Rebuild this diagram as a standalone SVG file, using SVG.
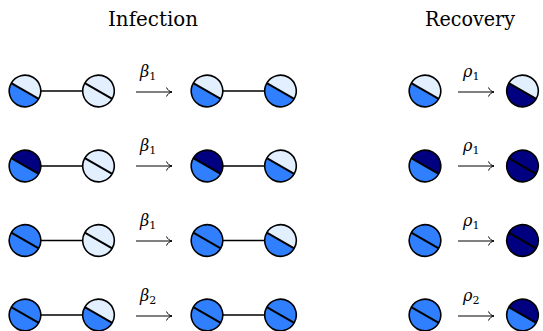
<svg xmlns="http://www.w3.org/2000/svg" width="543" height="331" viewBox="0 0 543 331">
<defs>
<style>
.L{fill:#E2EFFF}.M{fill:#2F7FFF}.D{fill:#000080}
.o{fill:none;stroke:#000;stroke-width:1.6}
.dv{stroke:#000;stroke-width:2;fill:none}
.e{stroke:#000;stroke-width:1.6;fill:none}
.ar{stroke:#000;stroke-width:1;fill:none}
.ser{font-family:'DejaVu Serif','Liberation Serif',serif}
</style>
<path id="top" d="M-15.8,0 A15.8,15.8 0 0 1 15.8,0 Z"/>
<path id="bot" d="M-15.8,0 A15.8,15.8 0 0 0 15.8,0 Z"/>
<line id="div" x1="-15.8" y1="0" x2="15.8" y2="0"/>
<circle id="ring" r="15.8"/>
<path id="arr" d="M0,0 H36 M30.5,-4.5 C31.5,-2 33.5,-0.6 36,0 C33.5,0.6 31.5,2 30.5,4.5"/>
</defs>
<g class="ser" fill="#000">
<text x="153" y="26" font-size="20" text-anchor="middle" textLength="90" lengthAdjust="spacingAndGlyphs">Infection</text>
<text x="470" y="26" font-size="20" text-anchor="middle" textLength="90" lengthAdjust="spacingAndGlyphs">Recovery</text>
</g>
<g id="connectors">
<line class="e" x1="41" y1="91" x2="83" y2="91"/>
<line class="e" x1="223" y1="91" x2="265" y2="91"/>
<line class="e" x1="41" y1="166" x2="83" y2="166"/>
<line class="e" x1="223" y1="166" x2="265" y2="166"/>
<line class="e" x1="41" y1="240.5" x2="83" y2="240.5"/>
<line class="e" x1="223" y1="240.5" x2="265" y2="240.5"/>
<line class="e" x1="41" y1="315" x2="83" y2="315"/>
<line class="e" x1="223" y1="315" x2="265" y2="315"/>
<use href="#arr" class="ar" x="136" y="92"/>
<use href="#arr" class="ar" x="136" y="166"/>
<use href="#arr" class="ar" x="136" y="241"/>
<use href="#arr" class="ar" x="136" y="316"/>
<use href="#arr" class="ar" x="458" y="92"/>
<use href="#arr" class="ar" x="458" y="166"/>
<use href="#arr" class="ar" x="458" y="241"/>
<use href="#arr" class="ar" x="458" y="316"/>
<g class="ser" font-size="16" font-style="italic" fill="#000">
<text x="140" y="77">β<tspan font-size="11" font-style="normal" dy="3">1</tspan></text>
<text x="140" y="151">β<tspan font-size="11" font-style="normal" dy="3">1</tspan></text>
<text x="140" y="226">β<tspan font-size="11" font-style="normal" dy="3">1</tspan></text>
<text x="140" y="301">β<tspan font-size="11" font-style="normal" dy="3">2</tspan></text>
<text x="463" y="77">ρ<tspan font-size="11" font-style="normal" dy="3">1</tspan></text>
<text x="463" y="151">ρ<tspan font-size="11" font-style="normal" dy="3">1</tspan></text>
<text x="463" y="226">ρ<tspan font-size="11" font-style="normal" dy="3">1</tspan></text>
<text x="463" y="301">ρ<tspan font-size="11" font-style="normal" dy="3">2</tspan></text>
</g>
</g>
<!-- Row 1 -->
<g id="n1a" transform="translate(25,91) rotate(30)"><use href="#top" class="L"/><use href="#bot" class="M"/><use href="#div" class="dv"/><use href="#ring" class="o"/></g>
<g id="n1b" transform="translate(98.5,91) rotate(30)"><use href="#top" class="L"/><use href="#bot" class="L"/><use href="#div" class="dv"/><use href="#ring" class="o"/></g>
<g id="n1c" transform="translate(207,91) rotate(30)"><use href="#top" class="L"/><use href="#bot" class="M"/><use href="#div" class="dv"/><use href="#ring" class="o"/></g>
<g id="n1d" transform="translate(280.5,91) rotate(30)"><use href="#top" class="L"/><use href="#bot" class="M"/><use href="#div" class="dv"/><use href="#ring" class="o"/></g>
<g id="r1a" transform="translate(425,91) rotate(30)"><use href="#top" class="L"/><use href="#bot" class="M"/><use href="#div" class="dv"/><use href="#ring" class="o"/></g>
<g id="r1b" transform="translate(522.5,91) rotate(30)"><use href="#top" class="L"/><use href="#bot" class="D"/><use href="#div" class="dv"/><use href="#ring" class="o"/></g>
<!-- Row 2 -->
<g id="n2a" transform="translate(25,166) rotate(30)"><use href="#top" class="D"/><use href="#bot" class="M"/><use href="#div" class="dv"/><use href="#ring" class="o"/></g>
<g id="n2b" transform="translate(98.5,166) rotate(30)"><use href="#top" class="L"/><use href="#bot" class="L"/><use href="#div" class="dv"/><use href="#ring" class="o"/></g>
<g id="n2c" transform="translate(207,166) rotate(30)"><use href="#top" class="D"/><use href="#bot" class="M"/><use href="#div" class="dv"/><use href="#ring" class="o"/></g>
<g id="n2d" transform="translate(280.5,166) rotate(30)"><use href="#top" class="L"/><use href="#bot" class="M"/><use href="#div" class="dv"/><use href="#ring" class="o"/></g>
<g id="r2a" transform="translate(425,166) rotate(30)"><use href="#top" class="D"/><use href="#bot" class="M"/><use href="#div" class="dv"/><use href="#ring" class="o"/></g>
<g id="r2b" transform="translate(522.5,166) rotate(30)"><use href="#top" class="D"/><use href="#bot" class="D"/><use href="#div" class="dv"/><use href="#ring" class="o"/></g>
<!-- Row 3 -->
<g id="n3a" transform="translate(25,240.5) rotate(30)"><use href="#top" class="M"/><use href="#bot" class="M"/><use href="#div" class="dv"/><use href="#ring" class="o"/></g>
<g id="n3b" transform="translate(98.5,240.5) rotate(30)"><use href="#top" class="L"/><use href="#bot" class="L"/><use href="#div" class="dv"/><use href="#ring" class="o"/></g>
<g id="n3c" transform="translate(207,240.5) rotate(30)"><use href="#top" class="M"/><use href="#bot" class="M"/><use href="#div" class="dv"/><use href="#ring" class="o"/></g>
<g id="n3d" transform="translate(280.5,240.5) rotate(30)"><use href="#top" class="L"/><use href="#bot" class="M"/><use href="#div" class="dv"/><use href="#ring" class="o"/></g>
<g id="r3a" transform="translate(425,240.5) rotate(30)"><use href="#top" class="M"/><use href="#bot" class="M"/><use href="#div" class="dv"/><use href="#ring" class="o"/></g>
<g id="r3b" transform="translate(522.5,240.5) rotate(30)"><use href="#top" class="D"/><use href="#bot" class="D"/><use href="#div" class="dv"/><use href="#ring" class="o"/></g>
<!-- Row 4 -->
<g id="n4a" transform="translate(25,315) rotate(30)"><use href="#top" class="M"/><use href="#bot" class="M"/><use href="#div" class="dv"/><use href="#ring" class="o"/></g>
<g id="n4b" transform="translate(98.5,315) rotate(30)"><use href="#top" class="L"/><use href="#bot" class="M"/><use href="#div" class="dv"/><use href="#ring" class="o"/></g>
<g id="n4c" transform="translate(207,315) rotate(30)"><use href="#top" class="M"/><use href="#bot" class="M"/><use href="#div" class="dv"/><use href="#ring" class="o"/></g>
<g id="n4d" transform="translate(280.5,315) rotate(30)"><use href="#top" class="M"/><use href="#bot" class="M"/><use href="#div" class="dv"/><use href="#ring" class="o"/></g>
<g id="r4a" transform="translate(425,315) rotate(30)"><use href="#top" class="M"/><use href="#bot" class="M"/><use href="#div" class="dv"/><use href="#ring" class="o"/></g>
<g id="r4b" transform="translate(522.5,315) rotate(30)"><use href="#top" class="D"/><use href="#bot" class="M"/><use href="#div" class="dv"/><use href="#ring" class="o"/></g>
</svg>
